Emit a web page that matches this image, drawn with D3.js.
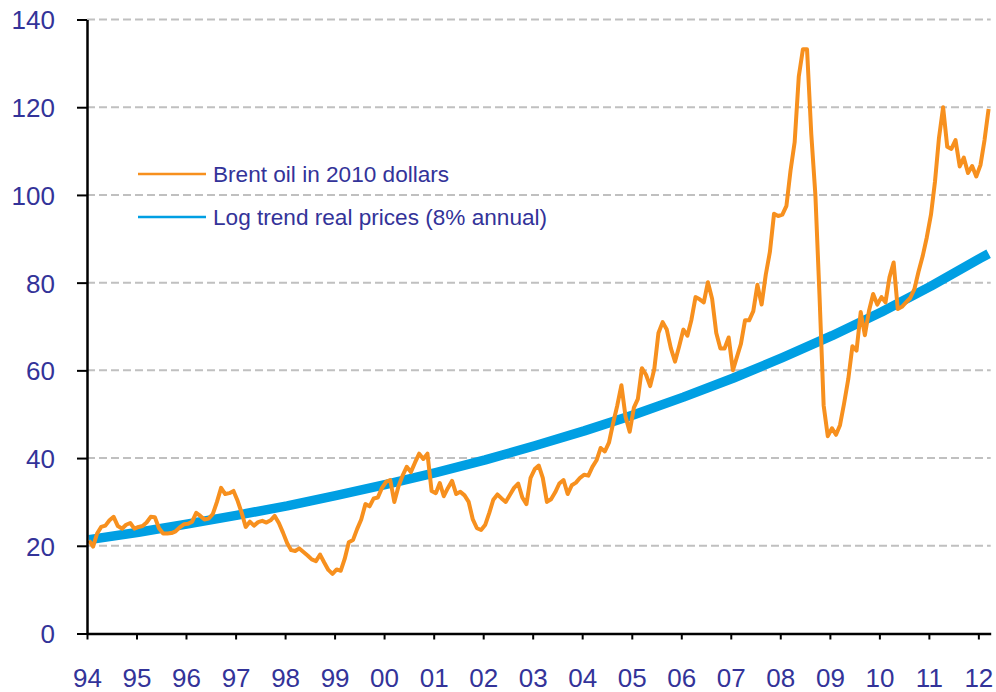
<!DOCTYPE html>
<html>
<head>
<meta charset="utf-8">
<script src="https://cdn.jsdelivr.net/npm/d3@7"></script>
<style>
  html, body { margin: 0; padding: 0; background: #ffffff; }
  svg { display: block; }
  text { font-family: "Liberation Sans", Arial, Helvetica, sans-serif; }
</style>
</head>
<body>
<svg id="chart" width="996" height="692"></svg>
<script>
// ---------------- DATA ----------------
const seriesNames = ["Brent oil in 2010 dollars", "Log trend real prices (8% annual)"];
const yearLabels = ["94","95","96","97","98","99","00","01","02","03","04","05","06","07","08","09","10","11","12"];
const yTicks = [0, 20, 40, 60, 80, 100, 120, 140];
const firstMonth = "1994-01";
// Brent oil, monthly, 2010 dollars (Jan 1994 .. Mar 2012)
const brent = [
  21.2, 19.8, 22.8, 24.3, 24.6, 25.8, 26.6, 24.5, 23.9, 24.8, 25.2, 23.9, // 1994
  24.3, 24.5, 25.3, 26.6, 26.5, 24.0, 22.8, 22.8, 22.9, 23.3, 24.2, 24.9, // 1995
  25.0, 25.5, 27.5, 26.8, 26.0, 26.2, 27.2, 30.0, 33.2, 31.8, 32.0, 32.5, // 1996
  30.2, 27.5, 24.3, 25.5, 24.6, 25.4, 25.7, 25.3, 25.8, 26.8, 25.2, 23.0, // 1997
  20.6, 19.0, 18.8, 19.4, 18.6, 17.8, 16.9, 16.5, 18.0, 16.2, 14.5, 13.6, // 1998
  14.6, 14.3, 17.0, 20.8, 21.3, 23.8, 26.0, 29.5, 29.0, 30.8, 31.0, 33.2, // 1999
  34.6, 35.0, 30.0, 33.5, 36.0, 38.0, 36.8, 39.0, 41.0, 39.8, 41.0, 32.5, // 2000
  32.0, 34.3, 31.3, 33.2, 34.8, 31.8, 32.3, 31.5, 30.0, 26.0, 24.0, 23.6, // 2001
  24.8, 27.5, 30.5, 31.7, 30.8, 30.0, 31.6, 33.2, 34.2, 31.0, 29.5, 35.5, // 2002
  37.5, 38.3, 35.5, 30.0, 30.6, 32.2, 34.2, 35.0, 31.8, 33.8, 34.4, 35.5, // 2003
  36.2, 36.0, 38.0, 39.5, 42.3, 41.5, 43.5, 48.0, 52.0, 56.6, 49.4, 46.0, // 2004
  51.5, 53.5, 60.5, 59.0, 56.4, 60.3, 68.5, 71.0, 69.3, 65.0, 62.0, 65.5, // 2005
  69.3, 67.9, 71.5, 76.7, 76.2, 75.5, 80.1, 76.3, 68.5, 65.0, 65.0, 67.5, // 2006
  60.0, 63.0, 66.0, 71.4, 71.4, 73.5, 79.5, 75.0, 81.8, 87.0, 95.7, 95.2, // 2007
  95.5, 97.5, 105.5, 112.0, 127.0, 133.2, 133.2, 114.0, 100.0, 77.0, 52.0, 45.0, // 2008
  46.8, 45.3, 47.5, 52.5, 58.0, 65.5, 64.5, 73.3, 68.0, 73.6, 77.4, 75.0, // 2009
  76.7, 75.5, 81.2, 84.6, 74.0, 74.5, 75.5, 76.5, 78.5, 82.5, 86.0, 90.3, // 2010
  95.5, 103.0, 113.0, 120.0, 111.0, 110.5, 112.5, 106.5, 108.5, 105.0, 106.6, 104.2, // 2011
  106.8, 112.5, 119.6 // 2012
];
// Log trend (8% annual), read at the start of each year plus the last month
const trendMonths = ["1994-01","1995-01","1996-01","1997-01","1998-01","1999-01","2000-01","2001-01","2002-01","2003-01",
                     "2004-01","2005-01","2006-01","2007-01","2008-01","2009-01","2010-01","2011-01","2012-01","2012-03"];
const trend = [21.4, 23.1, 25.0, 27.0, 29.1, 31.5, 34.0, 36.7, 39.6, 42.8,
               46.2, 49.9, 53.9, 58.2, 62.9, 67.9, 73.3, 79.2, 85.6, 86.6];

// ---------------- CHART ----------------
const W = 996, H = 692;
const plot = { left: 87, right: 990.7, top: 19.5, bottom: 633.5 };
const colors = { brent: "#F7901E", trend: "#009FE3", text: "#333399", grid: "#c0c0c0" };

const parseMonth = d3.timeParse("%Y-%m");
const start = parseMonth(firstMonth);
const end = d3.timeMonth.offset(start, brent.length);
const midMonth = d => new Date(d.getTime() + (d3.timeMonth.offset(d, 1) - d) / 2);

const x = d3.scaleTime().domain([start, end]).range([plot.left, plot.right]);
const y = d3.scaleLinear().domain([0, 140]).range([plot.bottom, plot.top]);

const svg = d3.select("#chart");

// gridlines
svg.append("g").selectAll("line")
  .data(yTicks.filter(v => v > 0))
  .join("line")
  .attr("x1", plot.left).attr("x2", plot.right)
  .attr("y1", d => y(d)).attr("y2", d => y(d))
  .attr("stroke", colors.grid).attr("stroke-width", 2)
  .attr("stroke-dasharray", "8,4");

// series
const brentData = brent.map((v, i) => ({ date: midMonth(d3.timeMonth.offset(start, i)), value: v }));
const trendData = trend.map((v, i) => ({ date: midMonth(parseMonth(trendMonths[i])), value: v }));
const line = d3.line().x(d => x(d.date)).y(d => y(d.value));

svg.append("path").datum(trendData)
  .attr("d", line).attr("fill", "none")
  .attr("stroke", colors.trend).attr("stroke-width", 9.5)
  .attr("stroke-linejoin", "round");

svg.append("path").datum(brentData)
  .attr("d", line).attr("fill", "none")
  .attr("stroke", colors.brent).attr("stroke-width", 4)
  .attr("stroke-linejoin", "round");

// axes
const yearTicks = yearLabels.map((_, i) => d3.timeYear.offset(start, i));
const xAxis = d3.axisBottom(x).tickValues(yearTicks)
  .tickFormat((d, i) => yearLabels[i]).tickSize(6).tickSizeOuter(0);
const gx = svg.append("g").attr("transform", `translate(0,${plot.bottom})`).call(xAxis);
gx.select(".domain").attr("stroke", "#000").attr("stroke-width", 2.5);
gx.selectAll(".tick line").attr("stroke", "#000").attr("stroke-width", 2);
gx.selectAll(".tick text").attr("fill", colors.text).attr("font-size", 26)
  .attr("dy", null).attr("y", 53.5);

const yAxis = d3.axisLeft(y).tickValues(yTicks).tickSize(10).tickSizeOuter(0);
const gy = svg.append("g").attr("transform", `translate(${plot.left},0)`).call(yAxis);
gy.select(".domain").attr("stroke", "#000").attr("stroke-width", 2.5);
gy.selectAll(".tick line").attr("stroke", "#000").attr("stroke-width", 2);
gy.selectAll(".tick text").attr("fill", colors.text).attr("font-size", 26)
  .attr("x", -32).attr("dy", "0.36em");
svg.selectAll(".tick text").attr("font-family", '"Liberation Sans", Arial, sans-serif');

// legend
const legend = svg.append("g");
const legendItems = [
  { name: seriesNames[0], color: colors.brent, y: 174 },
  { name: seriesNames[1], color: colors.trend, y: 217 }
];
legendItems.forEach(it => {
  legend.append("line").attr("x1", 138).attr("x2", 206)
    .attr("y1", it.y).attr("y2", it.y)
    .attr("stroke", it.color).attr("stroke-width", 2.5);
  legend.append("text").attr("x", 213).attr("y", it.y).attr("dy", "0.36em")
    .attr("fill", colors.text).attr("font-size", 22.6).text(it.name);
});
</script>
</body>
</html>
